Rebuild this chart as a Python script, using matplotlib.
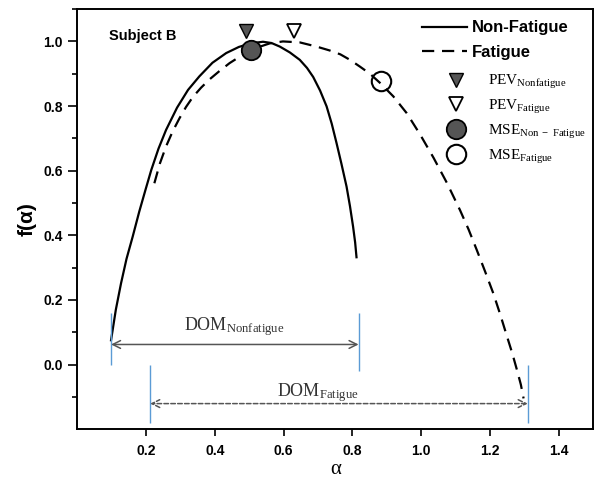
import numpy as np
import matplotlib
matplotlib.use("Agg")
import matplotlib.pyplot as plt

plt.rcParams['font.family'] = ['Liberation Sans', 'DejaVu Sans']
plt.rcParams['mathtext.fontset'] = 'custom'
plt.rcParams['mathtext.rm'] = 'Liberation Serif'
plt.rcParams['mathtext.it'] = 'Liberation Serif:italic'
plt.rcParams['mathtext.bf'] = 'Liberation Serif:bold'

# multifractal spectra, subject B
alpha_nonfatigue = [0.098, 0.112, 0.127, 0.143, 0.161, 0.180, 0.198, 0.215, 0.236, 0.258,
                    0.290, 0.322, 0.355, 0.393, 0.433, 0.470, 0.505, 0.540, 0.565, 0.589,
                    0.618, 0.647, 0.668, 0.686, 0.706, 0.725, 0.740, 0.754, 0.768, 0.783,
                    0.793, 0.802, 0.808, 0.812]
f_nonfatigue = [0.075, 0.170, 0.251, 0.327, 0.396, 0.473, 0.540, 0.602, 0.668, 0.726,
                0.795, 0.850, 0.892, 0.934, 0.964, 0.983, 0.994, 0.999, 0.995, 0.984,
                0.966, 0.943, 0.918, 0.890, 0.848, 0.799, 0.745, 0.685, 0.622, 0.551,
                0.490, 0.427, 0.378, 0.332]

alpha_fatigue = [0.224, 0.240, 0.258, 0.277, 0.297, 0.316, 0.336, 0.360, 0.385, 0.413,
                 0.443, 0.480, 0.520, 0.560, 0.598, 0.647, 0.696, 0.734, 0.765, 0.793,
                 0.822, 0.851, 0.880, 0.919, 0.958, 0.997, 1.036, 1.075, 1.113, 1.138,
                 1.162, 1.186, 1.210, 1.230, 1.250, 1.265, 1.279, 1.290, 1.298]
f_fatigue = [0.561, 0.622, 0.675, 0.721, 0.762, 0.797, 0.828, 0.857, 0.883, 0.908,
             0.933, 0.958, 0.980, 0.994, 1.000, 0.997, 0.984, 0.972, 0.960, 0.943,
             0.922, 0.900, 0.872, 0.830, 0.778, 0.712, 0.640, 0.562, 0.478, 0.418,
             0.354, 0.288, 0.220, 0.155, 0.086, 0.035, -0.018, -0.062, -0.105]

# peak (PEV) and MSE points
pev_nonfatigue = (0.491, 1.031)
pev_fatigue = (0.630, 1.031)
mse_nonfatigue = (0.506, 0.974)
mse_fatigue = (0.884, 0.877)

# width of the spectra (DOM)
dom_nonfatigue = (0.098, 0.818)
dom_fatigue = (0.212, 1.310)

fig = plt.figure(figsize=(5.95, 4.8), dpi=100)
ax = fig.add_axes([0.130, 0.106, 0.8667, 0.875])

line_nf, = ax.plot(alpha_nonfatigue, f_nonfatigue, color='black', lw=1.6, label='Non-Fatigue')
line_f, = ax.plot(alpha_fatigue, f_fatigue, color='black', lw=1.6, dashes=(5.5, 3.5), label='Fatigue')

grey = '#555555'
m1, = ax.plot(*pev_nonfatigue, 'v', ms=10, mfc=grey, mec='black', mew=1.0, ls='none',
              label=r'$\mathrm{PEV}_{\mathrm{Nonfatigue}}$', zorder=5)
m2, = ax.plot(*pev_fatigue, 'v', ms=10, mfc='white', mec='black', mew=1.3, ls='none',
              label=r'$\mathrm{PEV}_{\mathrm{Fatigue}}$', zorder=5)
m3, = ax.plot(*mse_nonfatigue, 'o', ms=14, mfc=grey, mec='black', mew=1.3, ls='none',
              label=r'$\mathrm{MSE}_{\mathrm{Non\ -\ Fatigue}}$', zorder=5)
m4, = ax.plot(*mse_fatigue, 'o', ms=14, mfc='none', mec='black', mew=1.5, ls='none',
              label=r'$\mathrm{MSE}_{\mathrm{Fatigue}}$', zorder=5)

# DOM markers and arrows
blue = '#5b9bd5'
ax.vlines(dom_nonfatigue[0], 0.0, 0.16, color=blue, lw=1)
ax.vlines(dom_nonfatigue[1], -0.02, 0.16, color=blue, lw=1)
ax.vlines(dom_fatigue, -0.18, 0.0, color=blue, lw=1)

ax.annotate('', xy=(dom_nonfatigue[0], 0.062), xytext=(dom_nonfatigue[1], 0.062),
            arrowprops=dict(arrowstyle='<->', color=grey, lw=1.1, mutation_scale=14,
                            shrinkA=0, shrinkB=0))
ax.annotate('', xy=(dom_fatigue[0], -0.121), xytext=(dom_fatigue[1], -0.121),
            arrowprops=dict(arrowstyle='<->', color=grey, lw=1.1, mutation_scale=14,
                            linestyle=(0, (3, 1.5)), shrinkA=0, shrinkB=0))

ax.text(0.457, 0.117, r'$\mathrm{DOM}_{\mathrm{Nonfatigue}}$', fontsize=13,
        ha='center', va='center', color='#333333')
ax.text(0.70, -0.088, r'$\mathrm{DOM}_{\mathrm{Fatigue}}$', fontsize=13,
        ha='center', va='center', color='#333333')

ax.text(0.093, 1.018, 'Subject B', fontsize=10.5, fontweight='bold', ha='left', va='center')

ax.set_xlim(0, 1.5)
ax.set_ylim(-0.2, 1.1)
ax.set_xticks([0.2, 0.4, 0.6, 0.8, 1.0, 1.2, 1.4])
ax.set_yticks([0.0, 0.2, 0.4, 0.6, 0.8, 1.0])
ax.set_yticks(np.arange(-0.1, 1.1, 0.2), minor=True)
ax.tick_params(axis='both', which='major', direction='out', width=1.2, labelsize=10)
ax.tick_params(axis='x', which='major', length=5, pad=6)
ax.tick_params(axis='y', which='major', length=6.5, pad=4)
ax.tick_params(axis='y', which='minor', direction='out', length=3.5, width=1.2)
for lab in ax.get_xticklabels() + ax.get_yticklabels():
    lab.set_fontweight('bold')
for sp in ax.spines.values():
    sp.set_linewidth(1.4)

ax.set_xlabel('α', fontsize=15, family='Liberation Serif', labelpad=1)
ax.set_ylabel('f(α)', fontsize=15, fontweight='bold', labelpad=5)

leg1 = ax.legend(handles=[line_nf, line_f], loc='upper left', bbox_to_anchor=(0.668, 0.973),
                 frameon=False, prop={'weight': 'bold', 'size': 12},
                 handlelength=2.7, handletextpad=0.3, borderpad=0, borderaxespad=0,
                 labelspacing=0.55)
ax.add_artist(leg1)
ax.legend(handles=[m1, m2, m3, m4], loc='upper left', bbox_to_anchor=(0.713, 0.848),
          frameon=False, fontsize=11, handlelength=1.5, handletextpad=1.3, borderpad=0,
          borderaxespad=0, labelspacing=0.45)

fig.savefig('out.png', dpi=100)
